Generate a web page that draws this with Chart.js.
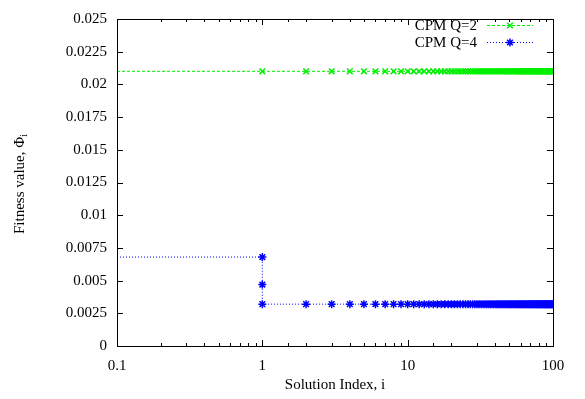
<!DOCTYPE html>
<html lang="en">
<head>
  <meta charset="UTF-8" />
  <title>Fitness value per solution</title>
  <script src="https://cdn.jsdelivr.net/npm/chart.js"></script>
  <style>
    html, body { margin: 0; padding: 0; background: #fff; }
    canvas { display: block; }
  </style>
</head>
<body>
  <canvas id="fitnessChart" width="585" height="399"></canvas>

  <script>
    // solution index (the 0.1 entry only carries the line to the left edge)
    const solutionIndex = [
      0.1,
      1, 2, 3, 4, 5, 6, 7, 8, 9, 10,
      11, 12, 13, 14, 15, 16, 17, 18, 19, 20,
      21, 22, 23, 24, 25, 26, 27, 28, 29, 30,
      31, 32, 33, 34, 35, 36, 37, 38, 39, 40,
      41, 42, 43, 44, 45, 46, 47, 48, 49, 50,
      51, 52, 53, 54, 55, 56, 57, 58, 59, 60,
      61, 62, 63, 64, 65, 66, 67, 68, 69, 70,
      71, 72, 73, 74, 75, 76, 77, 78, 79, 80,
      81, 82, 83, 84, 85, 86, 87, 88, 89, 90,
      91, 92, 93, 94, 95, 96, 97, 98, 99, 100
    ];

    const cpmQ2 = [
      0.021,
      0.021, 0.021, 0.021, 0.021, 0.021, 0.021, 0.021, 0.021, 0.021, 0.021,
      0.021, 0.021, 0.021, 0.021, 0.021, 0.021, 0.021, 0.021, 0.021, 0.021,
      0.021, 0.021, 0.021, 0.021, 0.021, 0.021, 0.021, 0.021, 0.021, 0.021,
      0.021, 0.021, 0.021, 0.021, 0.021, 0.021, 0.021, 0.021, 0.021, 0.021,
      0.021, 0.021, 0.021, 0.021, 0.021, 0.021, 0.021, 0.021, 0.021, 0.021,
      0.021, 0.021, 0.021, 0.021, 0.021, 0.021, 0.021, 0.021, 0.021, 0.021,
      0.021, 0.021, 0.021, 0.021, 0.021, 0.021, 0.021, 0.021, 0.021, 0.021,
      0.021, 0.021, 0.021, 0.021, 0.021, 0.021, 0.021, 0.021, 0.021, 0.021,
      0.021, 0.021, 0.021, 0.021, 0.021, 0.021, 0.021, 0.021, 0.021, 0.021,
      0.021, 0.021, 0.021, 0.021, 0.021, 0.021, 0.021, 0.021, 0.021, 0.021
    ];

    // Q=4 drops at i=1 before settling
    const cpmQ4Index = [
      0.1, 1, 1,
      1, 2, 3, 4, 5, 6, 7, 8, 9, 10,
      11, 12, 13, 14, 15, 16, 17, 18, 19, 20,
      21, 22, 23, 24, 25, 26, 27, 28, 29, 30,
      31, 32, 33, 34, 35, 36, 37, 38, 39, 40,
      41, 42, 43, 44, 45, 46, 47, 48, 49, 50,
      51, 52, 53, 54, 55, 56, 57, 58, 59, 60,
      61, 62, 63, 64, 65, 66, 67, 68, 69, 70,
      71, 72, 73, 74, 75, 76, 77, 78, 79, 80,
      81, 82, 83, 84, 85, 86, 87, 88, 89, 90,
      91, 92, 93, 94, 95, 96, 97, 98, 99, 100
    ];

    const cpmQ4 = [
      0.0068, 0.0068, 0.0047,
      0.0032, 0.0032, 0.0032, 0.0032, 0.0032, 0.0032, 0.0032, 0.0032, 0.0032, 0.0032,
      0.0032, 0.0032, 0.0032, 0.0032, 0.0032, 0.0032, 0.0032, 0.0032, 0.0032, 0.0032,
      0.0032, 0.0032, 0.0032, 0.0032, 0.0032, 0.0032, 0.0032, 0.0032, 0.0032, 0.0032,
      0.0032, 0.0032, 0.0032, 0.0032, 0.0032, 0.0032, 0.0032, 0.0032, 0.0032, 0.0032,
      0.0032, 0.0032, 0.0032, 0.0032, 0.0032, 0.0032, 0.0032, 0.0032, 0.0032, 0.0032,
      0.0032, 0.0032, 0.0032, 0.0032, 0.0032, 0.0032, 0.0032, 0.0032, 0.0032, 0.0032,
      0.0032, 0.0032, 0.0032, 0.0032, 0.0032, 0.0032, 0.0032, 0.0032, 0.0032, 0.0032,
      0.0032, 0.0032, 0.0032, 0.0032, 0.0032, 0.0032, 0.0032, 0.0032, 0.0032, 0.0032,
      0.0032, 0.0032, 0.0032, 0.0032, 0.0032, 0.0032, 0.0032, 0.0032, 0.0032, 0.0032,
      0.0032, 0.0032, 0.0032, 0.0032, 0.0032, 0.0032, 0.0032, 0.0032, 0.0032, 0.0032
    ];

    const yTickLabels = ["0", "0.0025", "0.005", "0.0075", "0.01", "0.0125",
                         "0.015", "0.0175", "0.02", "0.0225", "0.025"];
    const xTickLabels = ["0.1", "1", "10", "100"];
    const seriesNames = ["CPM Q=2", "CPM Q=4"];

    const FONT = "'Liberation Serif', 'DejaVu Serif', serif";
    const FS = 15;
    const GREEN = "#00f000";
    const BLUE = "#0000ff";

    const toPoints = (xs, ys) => xs.map((x, i) => ({ x, y: ys[i] }));

    // gnuplot-like frame, inward ticks, legend and y title
    const gnuplotFrame = {
      id: "gnuplotFrame",
      afterDraw(chart) {
        const { ctx, chartArea: a, scales } = chart;
        ctx.save();
        ctx.strokeStyle = "#000";
        ctx.lineWidth = 1;
        ctx.setLineDash([]);

        // ticks
        ctx.beginPath();
        scales.x.ticks.forEach(t => {
          const px = Math.round(scales.x.getPixelForValue(t.value)) + 0.5;
          const lg = Math.log10(t.value);
          const len = Math.abs(lg - Math.round(lg)) < 1e-6 ? 6 : 3;
          ctx.moveTo(px, a.bottom); ctx.lineTo(px, a.bottom - len);
          ctx.moveTo(px, a.top); ctx.lineTo(px, a.top + len);
        });
        scales.y.ticks.forEach(t => {
          const py = Math.round(scales.y.getPixelForValue(t.value)) + 0.5;
          ctx.moveTo(a.left, py); ctx.lineTo(a.left + 6, py);
          ctx.moveTo(a.right, py); ctx.lineTo(a.right - 6, py);
        });
        ctx.stroke();

        // frame
        ctx.strokeRect(Math.round(a.left) + 0.5, Math.round(a.top) + 0.5,
          Math.round(a.right - a.left), Math.round(a.bottom - a.top));

        // legend
        const sets = chart.data.datasets;
        ctx.font = FS + "px " + FONT;
        ctx.fillStyle = "#000";
        ctx.textAlign = "right";
        ctx.textBaseline = "middle";
        sets.forEach((ds, i) => {
          const y = 25 + i * 17;
          ctx.fillText(seriesNames[i], 477, y + 1);
          ctx.save();
          ctx.strokeStyle = ds.borderColor;
          ctx.setLineDash(ds.borderDash);
          ctx.beginPath();
          ctx.moveTo(487, y + 0.5); ctx.lineTo(533, y + 0.5);
          ctx.stroke();
          ctx.setLineDash([]);
          ctx.lineWidth = 1.5;
          Chart.helpers.drawPoint(ctx, {
            pointStyle: ds.pointStyle, radius: 4, rotation: 0, borderWidth: 1.5
          }, 510, y + 0.5);
          ctx.restore();
        });

        // y title with subscript
        ctx.save();
        ctx.translate(20, 184);
        ctx.rotate(-Math.PI / 2);
        ctx.textAlign = "left";
        ctx.textBaseline = "middle";
        ctx.font = FS + "px " + FONT;
        const main = "Fitness value, \u03A6";
        const w = ctx.measureText(main).width;
        ctx.font = "10px " + FONT;
        const sw = ctx.measureText("i").width;
        const x0 = -(w + sw) / 2;
        ctx.font = FS + "px " + FONT;
        ctx.fillText(main, x0, 0);
        ctx.font = "10px " + FONT;
        ctx.fillText("i", x0 + w, 4);
        ctx.restore();

        ctx.restore();
      }
    };

    new Chart(document.getElementById("fitnessChart"), {
      type: "line",
      data: {
        datasets: [
          {
            label: seriesNames[0],
            data: toPoints(solutionIndex, cpmQ2),
            borderColor: GREEN,
            backgroundColor: GREEN,
            borderWidth: 1,
            borderDash: [3, 2],
            pointStyle: "crossRot",
            pointRadius: ctx => (ctx.dataIndex === 0 ? 0 : 4),
            pointBorderWidth: 1.5,
            tension: 0,
            fill: false
          },
          {
            label: seriesNames[1],
            data: toPoints(cpmQ4Index, cpmQ4),
            borderColor: BLUE,
            backgroundColor: BLUE,
            borderWidth: 1,
            borderDash: [1, 2],
            pointStyle: "star",
            pointRadius: ctx => (ctx.dataIndex === 0 ? 0 : 4),
            pointBorderWidth: 1.5,
            tension: 0,
            fill: false
          }
        ]
      },
      options: {
        responsive: false,
        animation: false,
        events: [],
        layout: { padding: { top: 13, right: 32, left: 0, bottom: 0 } },
        plugins: {
          legend: { display: false },
          tooltip: { enabled: false }
        },
        scales: {
          x: {
            type: "logarithmic",
            min: 0.1,
            max: 100,
            grid: { display: false, drawTicks: false },
            border: { display: false },
            ticks: {
              color: "#000",
              font: { family: FONT, size: FS },
              padding: 11,
              maxRotation: 0,
              autoSkip: false,
              callback: v => {
                const i = [0.1, 1, 10, 100].findIndex(p => Math.abs(v - p) < 1e-9);
                return i >= 0 ? xTickLabels[i] : "";
              }
            },
            title: {
              display: true,
              text: "Solution Index, i",
              color: "#000",
              font: { family: FONT, size: FS },
              padding: { top: 4, bottom: 5 }
            },
            afterFit: s => { s.height = 53; }
          },
          y: {
            min: 0,
            max: 0.025,
            grid: { display: false, drawTicks: false },
            border: { display: false },
            ticks: {
              stepSize: 0.0025,
              color: "#000",
              font: { family: FONT, size: FS },
              padding: 10,
              callback: (v, i) => yTickLabels[i]
            },
            afterFit: s => { s.width = 117; }
          }
        }
      },
      plugins: [gnuplotFrame]
    });
  </script>
</body>
</html>
